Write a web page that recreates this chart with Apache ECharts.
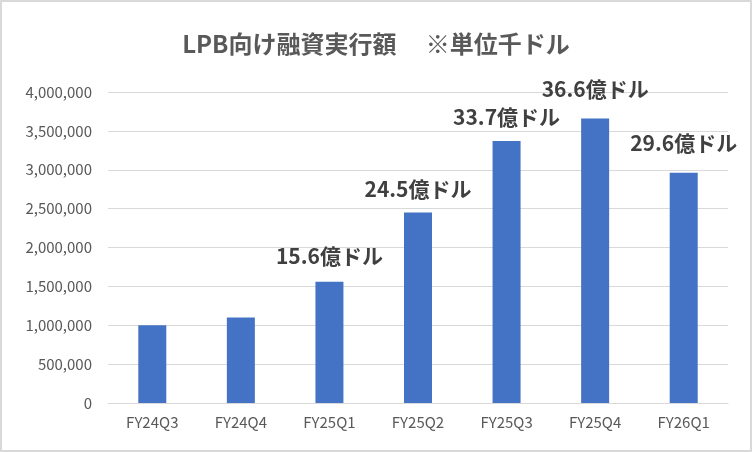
<!DOCTYPE html>
<html lang="ja">
<head>
<meta charset="UTF-8">
<title>LPB向け融資実行額</title>
<script src="https://cdn.jsdelivr.net/npm/echarts@6/dist/echarts.min.js"></script>
<style>
    body { margin: 0; padding: 0; background: #fff; }
    #chart {
        width: 748px; height: 448px;
        border: 2px solid #d9d9d9;
        background: #fff;
    }
</style>
</head>
<body>
<div id="chart"></div>
<script>
    var categories = ['FY24Q3', 'FY24Q4', 'FY25Q1', 'FY25Q2', 'FY25Q3', 'FY25Q4', 'FY26Q1'];
    var amounts = [1000000, 1100000, 1560000, 2450000, 3370000, 3660000, 2960000];
    var barLabels = ['', '', '15.6億ドル', '24.5億ドル', '33.7億ドル', '36.6億ドル', '29.6億ドル'];
    var labelGap = [14, 14, 15, 13, 13, 19, 19];

    var font = '"Noto Sans CJK JP", "Noto Sans", sans-serif';

    var chart = echarts.init(document.getElementById('chart'));
    chart.setOption({
        animation: false,
        title: {
            text: 'LPB向け融資実行額　 ※単位千ドル',
            left: 'center',
            top: 25,
            textStyle: { fontFamily: font, fontSize: 24, fontWeight: 'bold', color: '#595959' }
        },
        grid: { left: 106, right: 22, top: 90, bottom: 47 },
        xAxis: {
            type: 'category',
            data: categories,
            axisLine: { lineStyle: { color: '#d9d9d9' } },
            axisTick: { show: false },
            axisLabel: { fontFamily: font, fontSize: 15, color: '#595959', margin: 12 }
        },
        yAxis: {
            type: 'value',
            min: 0,
            max: 4000000,
            interval: 500000,
            axisLine: { show: false },
            axisTick: { show: false },
            splitLine: { lineStyle: { color: '#d9d9d9', width: 1 } },
            axisLabel: {
                fontFamily: font, fontSize: 15, color: '#595959', margin: 16,
                formatter: function (v) { return v.toLocaleString('en-US'); }
            }
        },
        series: [{
            type: 'bar',
            data: amounts.map(function (v, i) {
                return { value: v, label: { distance: labelGap[i] } };
            }),
            barWidth: 28,
            itemStyle: { color: '#4472c4' },
            label: {
                show: true,
                position: 'top',
                fontFamily: font,
                fontSize: 21,
                fontWeight: 'bold',
                color: '#404040',
                formatter: function (p) { return barLabels[p.dataIndex]; }
            }
        }]
    });
</script>
</body>
</html>
